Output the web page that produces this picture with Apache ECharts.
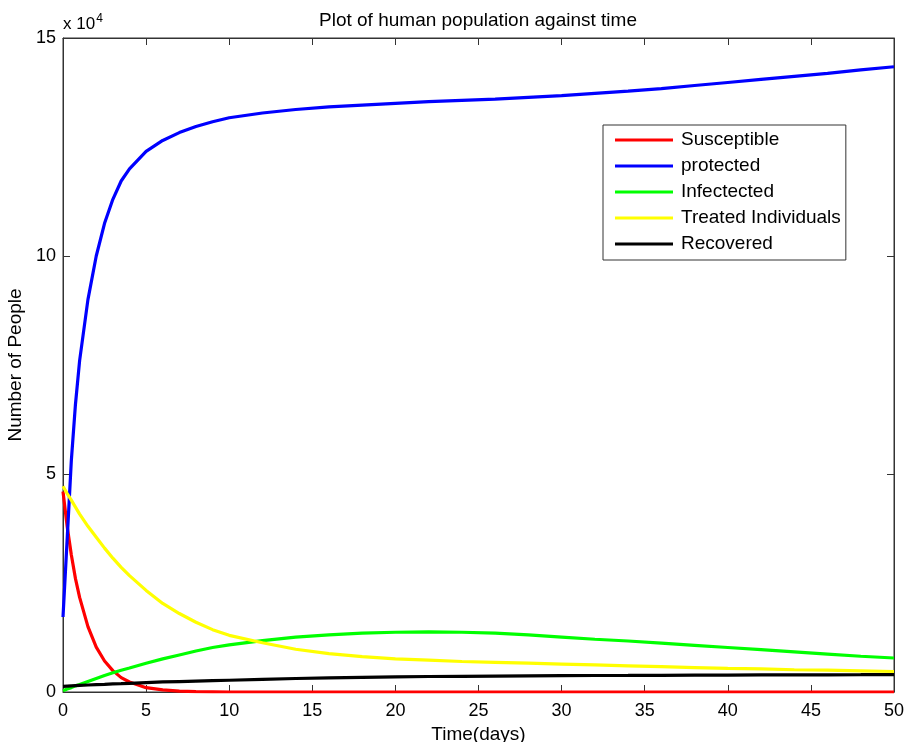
<!DOCTYPE html>
<html>
<head>
<meta charset="utf-8">
<script src="https://cdn.jsdelivr.net/npm/echarts@6/dist/echarts.min.js"></script>
<style>
html,body{margin:0;padding:0;background:#fff;}
#chart{width:907px;height:742px;}
</style>
</head>
<body>
<div id="chart"></div>
<script>
// values in units of 10^4 people
const timeDays = [0,0.25,0.5,0.75,1,1.5,2,2.5,3,3.5,4,5,6,7,8,9,10,12,14,16,18,20,22,24,26,28,30,32,34,36,38,40,42,44,46,48,50];
const susceptible = [4.6,3.8,3.15,2.6,2.17,1.5,1.03,0.71,0.49,0.33,0.23,0.1,0.05,0.02,0.01,0.005,0,0,0,0,0,0,0,0,0,0,0,0,0,0,0,0,0,0,0,0,0];
const protectedPop = [1.72,3.5,5.3,6.6,7.6,9.0,10.0,10.75,11.3,11.72,12.0,12.4,12.65,12.83,12.97,13.08,13.17,13.28,13.36,13.42,13.46,13.5,13.54,13.57,13.6,13.64,13.68,13.73,13.78,13.84,13.91,13.98,14.05,14.12,14.19,14.27,14.34];
const infected = [0.03,0.07,0.1,0.14,0.17,0.24,0.31,0.38,0.44,0.5,0.55,0.66,0.76,0.85,0.94,1.02,1.08,1.18,1.26,1.31,1.35,1.37,1.38,1.37,1.35,1.31,1.26,1.21,1.17,1.12,1.07,1.02,0.97,0.92,0.87,0.82,0.78];
const treated = [4.72,4.55,4.4,4.24,4.08,3.8,3.55,3.3,3.07,2.86,2.67,2.33,2.03,1.8,1.6,1.43,1.3,1.13,0.98,0.88,0.81,0.76,0.73,0.7,0.68,0.66,0.64,0.62,0.6,0.58,0.56,0.54,0.53,0.51,0.5,0.485,0.47];
const recovered = [0.13,0.135,0.14,0.145,0.15,0.16,0.17,0.175,0.185,0.19,0.2,0.215,0.23,0.24,0.25,0.26,0.27,0.29,0.31,0.325,0.335,0.345,0.355,0.36,0.365,0.37,0.375,0.378,0.38,0.383,0.386,0.389,0.391,0.393,0.395,0.397,0.4];
const seriesNames = ['Susceptible','protected','Infectected','Treated Individuals','Recovered'];
const seriesColors = ['#ff0000','#0000ff','#00ff00','#ffff00','#000000'];
const seriesValues = [susceptible, protectedPop, infected, treated, recovered];

const FONT = 'Liberation Sans, Arial, sans-serif';
const chart = echarts.init(document.getElementById('chart'), null, {renderer:'canvas'});
const axisLine = {show:true, onZero:false, lineStyle:{color:'#333', width:1}};
const tick = {show:true, inside:true, length:7, lineStyle:{color:'#333'}};
const option = {
  backgroundColor:'#fff',
  animation:false,
  title:{
    text:'Plot of human population against time',
    left:473, top:6, textAlign:'center',
    textStyle:{fontFamily:FONT, fontSize:19, fontWeight:'normal', color:'#000'}
  },
  grid:{left:63, right:13, top:38, bottom:50, outerBoundsMode:'none', containLabel:false,
        show:true, borderColor:'#333', borderWidth:1},
  legend:{
    orient:'vertical', left:603, top:125,
    data:seriesNames,
    icon:'rect', itemWidth:58, itemHeight:3, itemGap:6,
    padding:[5,5,6,12],
    borderColor:'#333', borderWidth:1, backgroundColor:'#fff',
    textStyle:{fontFamily:FONT, fontSize:19, color:'#000', lineHeight:20, padding:[0,0,0,3]}
  },
  xAxis:[{
    type:'value', min:0, max:50, interval:5,
    name:'Time(days)', nameLocation:'middle', nameGap:33,
    nameTextStyle:{fontFamily:FONT, fontSize:19, color:'#000'},
    axisLine:axisLine, axisTick:tick,
    axisLabel:{fontFamily:FONT, fontSize:18, color:'#000', margin:10},
    splitLine:{show:false}
  },{
    type:'value', min:0, max:50, interval:5, position:'top',
    axisLine:axisLine, axisTick:tick, axisLabel:{show:false}, splitLine:{show:false}
  }],
  yAxis:[{
    type:'value', min:0, max:15, interval:5,
    name:'Number of People', nameLocation:'middle', nameGap:29, nameRotate:90,
    nameTextStyle:{fontFamily:FONT, fontSize:19, color:'#000'},
    axisLine:axisLine, axisTick:tick,
    axisLabel:{fontFamily:FONT, fontSize:18, color:'#000', margin:7},
    splitLine:{show:false}
  },{
    type:'value', min:0, max:15, interval:5, position:'right',
    axisLine:axisLine, axisTick:tick, axisLabel:{show:false}, splitLine:{show:false}
  }],
  graphic:[{
    type:'text', left:63, top:13,
    style:{
      text:'{a|x 10}{b|4}',
      rich:{
        a:{fontFamily:FONT, fontSize:17, fill:'#000', verticalAlign:'bottom'},
        b:{fontFamily:FONT, fontSize:12, fill:'#000', verticalAlign:'top', padding:[0,0,8,1]}
      }
    }
  }],
  series: seriesNames.map((n,i)=>({
    name:n, type:'line', showSymbol:false, symbol:'none',
    smooth:false,
    lineStyle:{color:seriesColors[i], width:3.2},
    itemStyle:{color:seriesColors[i]},
    data: timeDays.map((t,j)=>[t, seriesValues[i][j]]),
    z: 2+i
  }))
};
chart.setOption(option);
</script>
</body>
</html>
